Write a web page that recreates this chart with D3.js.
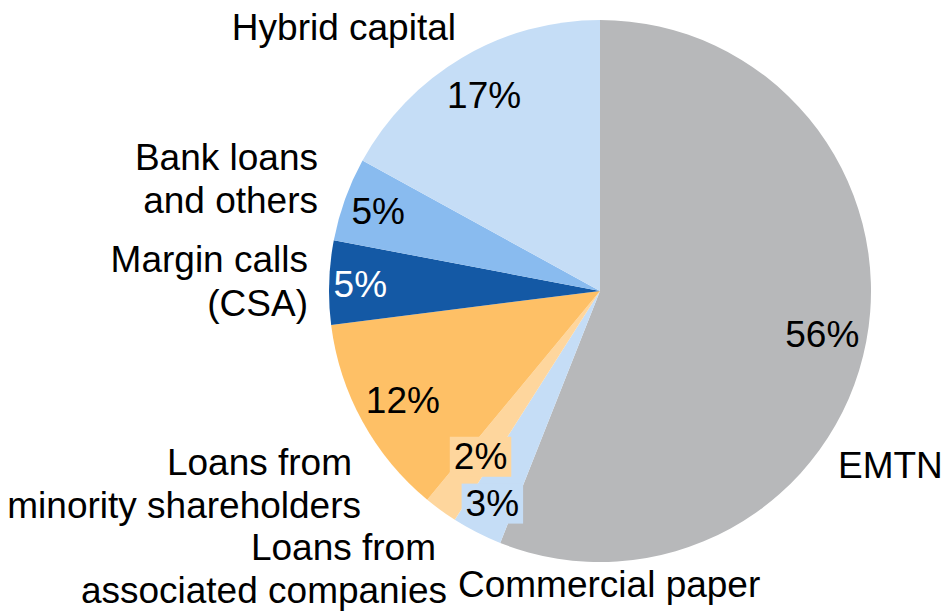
<!DOCTYPE html>
<html>
<head>
<meta charset="utf-8">
<script src="https://cdn.jsdelivr.net/npm/d3@7"></script>
<style>
  html, body { margin: 0; padding: 0; background: #fff; }
  svg text { font-family: "Liberation Sans", Arial, sans-serif; }
</style>
</head>
<body>
<svg id="chart" width="943" height="613"></svg>
<script>
// Funding sources, clockwise from 12 o'clock
const categories = [
  "EMTN",
  "Commercial paper",
  "Loans from associated companies",
  "Loans from minority shareholders",
  "Margin calls (CSA)",
  "Bank loans and others",
  "Hybrid capital"
];
const shares = [56, 3, 2, 12, 5, 5, 17];
const sliceColors = ["#b7b8ba", "#c5ddf6", "#fed69d", "#fec066", "#1459a5", "#89bbef", "#c5ddf6"];

// Category name lines, laid out around the pie
const nameLines = {
  "EMTN": [["EMTN", 838, 478, "start"]],
  "Commercial paper": [["Commercial paper", 458, 597, "start"]],
  "Loans from associated companies": [["Loans from", 436, 560, "end"], ["associated companies", 447, 603, "end"]],
  "Loans from minority shareholders": [["Loans from", 352, 475, "end"], ["minority shareholders", 361, 518, "end"]],
  "Margin calls (CSA)": [["Margin calls", 308, 272, "end"], ["(CSA)", 308, 316, "end"]],
  "Bank loans and others": [["Bank loans", 318, 170, "end"], ["and others", 318, 213, "end"]],
  "Hybrid capital": [["Hybrid capital", 456, 40, "end"]]
};

// Radial distance of each percentage label, as a fraction of the radius
const labelRadius = [0.835, 0.875, 0.75, 0.83, 0.885, 0.87, 0.84];
const boxed = { "Commercial paper": true, "Loans from associated companies": true };

const svg = d3.select("#chart");
const cx = 600, cy = 291, r = 271;
const g = svg.append("g").attr("transform", `translate(${cx},${cy})`);

const data = categories.map((c, i) => ({ name: c, value: shares[i], color: sliceColors[i], i }));

const pie = d3.pie().value(d => d.value).sort(null).startAngle(0).endAngle(2 * Math.PI);
const arc = d3.arc().innerRadius(0).outerRadius(r);
const arcs = pie(data);

g.selectAll("path.slice")
  .data(arcs)
  .join("path")
  .attr("class", "slice")
  .attr("d", arc)
  .attr("fill", d => d.data.color);

// Percentage labels
const fontSize = 37;
arcs.forEach(a => {
  const lr = r * labelRadius[a.data.i];
  const la = d3.arc().innerRadius(lr).outerRadius(lr);
  const [x, y] = la.centroid(a);
  const txt = a.data.value + "%";
  const lg = g.append("g").attr("transform", `translate(${x},${y})`);
  const t = lg.append("text")
    .attr("text-anchor", "middle")
    .attr("dy", "0.36em")
    .attr("font-size", fontSize)
    .attr("fill", a.data.name === "Margin calls (CSA)" ? "#ffffff" : "#000000")
    .text(txt);
  if (boxed[a.data.name]) {
    const bb = t.node().getBBox();
    lg.insert("rect", "text")
      .attr("x", bb.x - 4)
      .attr("y", bb.y + 1)
      .attr("width", bb.width + 8)
      .attr("height", bb.height - 1)
      .attr("fill", a.data.color);
  }
});

// Category names
categories.forEach(c => {
  nameLines[c].forEach(([line, x, y, anchor]) => {
    svg.append("text")
      .attr("x", x)
      .attr("y", y)
      .attr("text-anchor", anchor)
      .attr("font-size", fontSize)
      .attr("fill", "#000")
      .text(line);
  });
});
</script>
</body>
</html>
